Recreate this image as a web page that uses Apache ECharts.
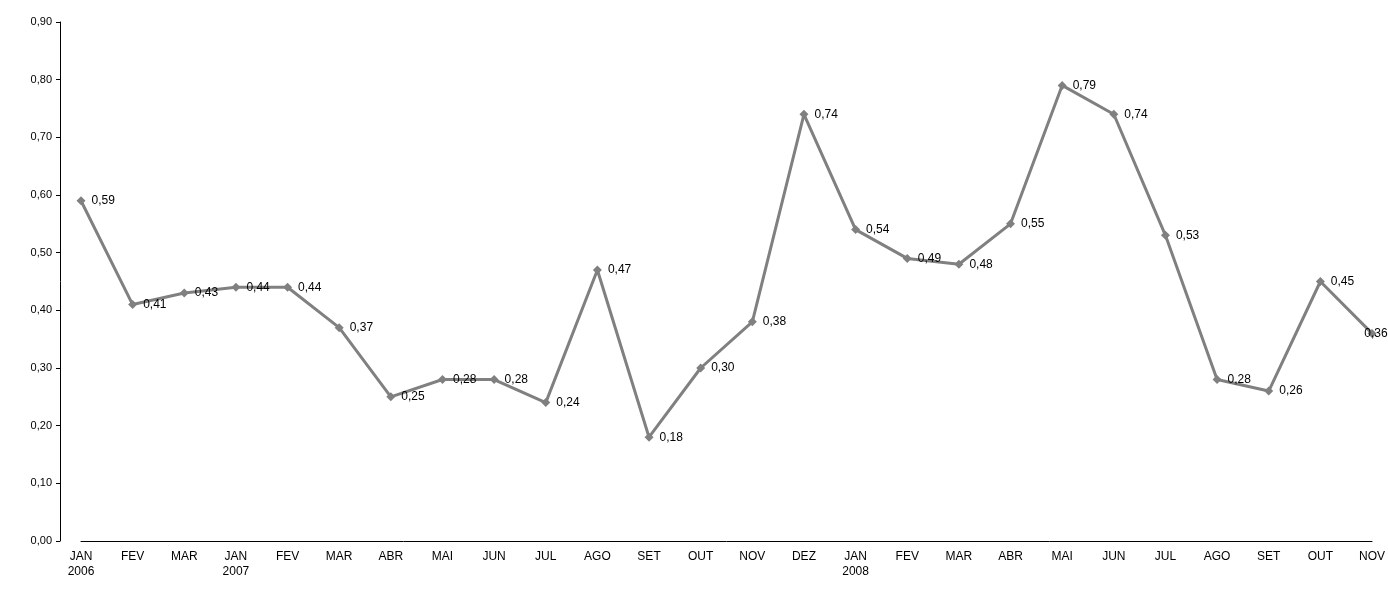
<!DOCTYPE html>
<html>
<head>
<meta charset="utf-8">
<script src="https://cdn.jsdelivr.net/npm/echarts@6/dist/echarts.min.js"></script>
<style>html,body{margin:0;background:#fff}#c{width:1388px;height:590px}</style>
</head>
<body>
<div id="c"></div>
<script>
const categories = ['JAN\n2006', 'FEV', 'MAR', 'JAN\n2007', 'FEV', 'MAR', 'ABR', 'MAI', 'JUN', 'JUL', 'AGO', 'SET', 'OUT', 'NOV', 'DEZ',
  'JAN\n2008', 'FEV', 'MAR', 'ABR', 'MAI', 'JUN', 'JUL', 'AGO', 'SET', 'OUT', 'NOV'];
const values = [0.59, 0.41, 0.43, 0.44, 0.44, 0.37, 0.25, 0.28, 0.28, 0.24, 0.47, 0.18, 0.30, 0.38, 0.74,
  0.54, 0.49, 0.48, 0.55, 0.79, 0.74, 0.53, 0.28, 0.26, 0.45, 0.36];

const fmt = v => v.toFixed(2).replace('.', ',');
const font = 'Liberation Sans';

// last label sits over its point, as in the original
const seriesData = values.map((v, i) => i === values.length - 1
  ? { value: v, label: { position: 'inside', offset: [4, 0] } }
  : v);

const chart = echarts.init(document.getElementById('c'));
chart.setOption({
  animation: false,
  grid: { left: 81, top: 22, right: 13, bottom: 49 },
  xAxis: {
    type: 'category',
    data: categories,
    boundaryGap: false,
    axisLine: { lineStyle: { color: '#000' } },
    axisTick: { show: false },
    axisLabel: { color: '#000', fontFamily: font, fontSize: 12, interval: 0, margin: 8, align: 'center', lineHeight: 15 }
  },
  yAxis: {
    type: 'value',
    offset: 21,
    min: 0, max: 0.9, interval: 0.1,
    splitLine: { show: false },
    axisLine: { show: true, lineStyle: { color: '#000' } },
    axisTick: { show: true, length: 4, lineStyle: { color: '#000' } },
    axisLabel: { color: '#000', fontFamily: font, fontSize: 11, formatter: v => fmt(v), margin: 8 }
  },
  series: [{
    type: 'line',
    data: seriesData,
    symbol: 'diamond',
    symbolSize: 9,
    itemStyle: { color: '#808080' },
    lineStyle: { color: '#808080', width: 3 },
    label: { show: true, position: 'right', distance: 6, color: '#000', fontFamily: font, fontSize: 12, formatter: p => fmt(p.value) }
  }]
});
</script>
</body>
</html>
